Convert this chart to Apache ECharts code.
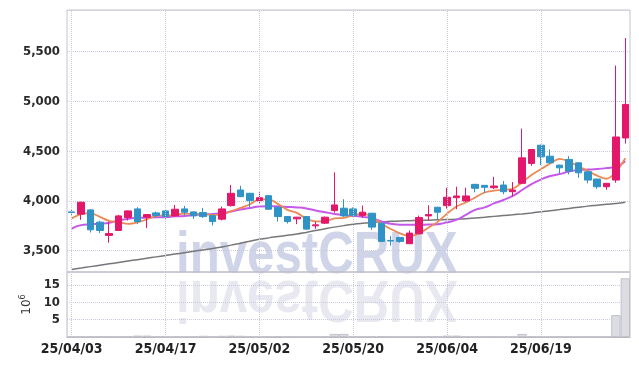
<!DOCTYPE html>
<html><head><meta charset="utf-8">
<script src="https://cdn.jsdelivr.net/npm/echarts@6/dist/echarts.min.js"></script>
<style>html,body{margin:0;padding:0;background:#fff}#c{width:639px;height:366px}</style>
</head><body><div id="c"></div>
<script>
const dates = ['25/04/03','25/04/04','25/04/07','25/04/08','25/04/09','25/04/10','25/04/11','25/04/14','25/04/15','25/04/16',
'25/04/17','25/04/18','25/04/21','25/04/22','25/04/23','25/04/24','25/04/25','25/04/28','25/04/29','25/04/30',
'25/05/02','25/05/07','25/05/08','25/05/09','25/05/12','25/05/13','25/05/14','25/05/15','25/05/16','25/05/19',
'25/05/20','25/05/21','25/05/22','25/05/23','25/05/26','25/05/27','25/05/28','25/05/29','25/05/30','25/06/02',
'25/06/04','25/06/05','25/06/09','25/06/10','25/06/11','25/06/12','25/06/13','25/06/16','25/06/17','25/06/18',
'25/06/19','25/06/20','25/06/23','25/06/24','25/06/25','25/06/26','25/06/27','25/06/30','25/07/01','25/07/02'];
const opens = [3890,3867,3910,3787,3653,3703,3833,3920,3837,3880,3900,3850,3920,3890,3883,3853,3817,3953,4110,4077,
4003,4053,3937,3843,3820,3843,3750,3777,3903,3927,3920,3853,3877,3777,3603,3633,3570,3670,3850,3937,
3953,4033,4000,4167,4157,4133,4160,4093,4177,4377,4560,4450,4360,4417,4383,4293,4220,4143,4210,4633];
const closes = [3885,3987,3710,3703,3673,3850,3900,3793,3863,3853,3843,3917,3887,3850,3843,3793,3920,4077,4043,4003,
4033,3917,3843,3793,3837,3717,3760,3837,3960,3850,3853,3887,3737,3593,3597,3593,3677,3833,3863,3887,
4037,4050,4050,4127,4137,4150,4093,4110,4433,4517,4443,4383,4333,4300,4283,4210,4143,4177,4643,4970];
const lows = [3850,3810,3683,3677,3580,3700,3803,3767,3727,3835,3820,3840,3860,3820,3830,3753,3803,3943,4040,3937,
3977,3910,3793,3773,3767,3710,3720,3770,3883,3840,3840,3830,3710,3590,3550,3580,3568,3668,3803,3817,
3923,3917,3993,4087,4080,4120,4067,4043,4170,4353,4360,4380,4277,4267,4233,4177,4120,4113,4183,4577];
const highs = [3910,3993,3917,3800,3793,3860,3905,3937,3868,3893,3905,3960,3950,3895,3930,3860,3943,4160,4153,4080,
4087,4060,3940,3845,3840,3845,3793,3843,4287,4017,3935,3953,3880,3780,3647,3637,3703,3853,3957,3940,
4133,4143,4133,4170,4160,4243,4200,4190,4727,4520,4565,4517,4365,4450,4387,4297,4223,4180,5360,5637];
const ma5 = [3825,3867,3877,3840,3800,3787,3770,3785,3815,3850,3855,3858,3872,3870,3868,3860,3862,3897,3930,3967,
4015,4015,3968,3910,3880,3822,3795,3795,3825,3830,3855,3872,3840,3770,3718,3675,3648,3670,3730,3790,
3872,3945,3985,4035,4085,4103,4111,4123,4185,4261,4319,4377,4422,4395,4348,4302,4254,4223,4291,4429];
const ma20 = [3722,3757,3765,3770,3780,3805,3820,3830,3833,3835,3837,3845,3850,3858,3865,3870,3877,3895,3915,3930,
3945,3947,3945,3940,3935,3925,3905,3887,3870,3858,3850,3840,3827,3795,3770,3762,3760,3760,3763,3767,
3785,3810,3860,3910,3935,3975,4010,4050,4110,4170,4215,4250,4270,4295,4310,4315,4320,4330,4345,4400];
const maLong = [3312,3326,3340,3354,3368,3382,3396,3410,3424,3438,3452,3466,3480,3494,3508,3522,3538,3556,3576,3596,
3614,3629,3642,3655,3668,3684,3702,3720,3737,3752,3765,3775,3783,3790,3795,3799,3802,3805,3807,3810,
3813,3817,3822,3828,3836,3845,3853,3861,3870,3880,3891,3902,3913,3925,3937,3948,3957,3966,3975,3987];
const volumes = [0.12,0.15,0.18,0.14,0.16,0.12,0.2,0.4,0.4,0.15,0.12,0.1,0.12,0.15,0.35,0.12,0.35,0.4,0.35,0.15,
0.12,0.15,0.3,0.12,0.1,0.12,0.1,0.15,0.9,0.9,0.15,0.12,0.15,0.2,0.12,0.1,0.12,0.15,0.12,0.1,
0.4,0.4,0.15,0.12,0.1,0.15,0.12,0.1,0.9,0.2,0.15,0.12,0.1,0.12,0.1,0.12,0.1,0.12,6.3,16.9];
const labelDates = ['25/04/03','25/04/17','25/05/02','25/05/20','25/06/04','25/06/19'];
const watermark = 'investCRUX';

const RED = '#e3186b', BLUE = '#2f93c6', GRID = '#c9c9dd';
const FONT = '"DejaVu Sans Condensed", "DejaVu Sans", sans-serif';
const chart = echarts.init(document.getElementById('c'), null, {renderer: 'canvas'});
const vLines = {
  silent: true, symbol: 'none', animation: false,
  label: {show: false},
  lineStyle: {type: 'dotted', color: GRID, width: 1},
  data: labelDates.map(d => ({xAxis: d}))
};
const wmFont = 'bold 60px "Liberation Sans", Arial, sans-serif';
chart.setOption({
  animation: false,
  backgroundColor: '#fff',
  grid: [
    {left: 67, right: 9, top: 10, height: 262, show: true, borderColor: '#c4c4cc', borderWidth: 1},
    {left: 67, right: 9, top: 272, height: 65, show: true, borderColor: '#b8b8c0', borderWidth: 1}
  ],
  graphic: [
    {type: 'text', x: 176, y: 256.5, scaleX: 0.82, z: -10, silent: true,
     style: {text: watermark, font: wmFont, fill: '#cfd4e8', textVerticalAlign: 'middle'}},
    {type: 'group', x: 176, y: 277, scaleY: -1, scaleX: 0.82, z: -10, silent: true, children: [
      {type: 'text', x: 0, y: -20.5, z: -10,
       style: {text: watermark, font: wmFont, fill: '#e8e8f0', textVerticalAlign: 'middle'}}
    ]}
  ],
  xAxis: [
    {type: 'category', gridIndex: 0, data: dates, boundaryGap: true,
     axisLine: {show: false}, axisTick: {show: false}, axisLabel: {show: false}, splitLine: {show: false}},
    {type: 'category', gridIndex: 1, data: dates, boundaryGap: true,
     axisLine: {show: true, lineStyle: {color: '#b8b8c0'}}, axisTick: {show: false}, splitLine: {show: false},
     axisLabel: {interval: 9, fontFamily: FONT, fontSize: 14, fontWeight: 'bold', color: '#222', margin: 5}}
  ],
  yAxis: [
    {type: 'value', gridIndex: 0, min: 3286, max: 5919, splitNumber: 5,
     axisLine: {show: false}, axisTick: {show: false},
     axisLabel: {showMinLabel: false, showMaxLabel: false, fontFamily: FONT, fontSize: 13, fontWeight: 'bold', color: '#2a2a2a', margin: 7},
     splitLine: {show: true, lineStyle: {type: 'dotted', color: GRID}}},
    {type: 'value', gridIndex: 1, min: 0, max: 18.7, interval: 5,
     axisLine: {show: false}, axisTick: {show: false},
     axisLabel: {showMinLabel: false, showMaxLabel: false, fontFamily: FONT, fontSize: 13, fontWeight: 'bold', color: '#2a2a2a', margin: 7},
     splitLine: {show: true, lineStyle: {type: 'dotted', color: GRID}},
     name: '{a|10}{b|6}', nameLocation: 'middle', nameRotate: 90, nameGap: 28,
     nameTextStyle: {rich: {a: {fontSize: 12, color: '#333', fontFamily: 'DejaVu Sans'}, b: {fontSize: 8, color: '#333', fontFamily: 'DejaVu Sans', padding: [0, 0, 8, 0]}}}}
  ],
  series: [
    {type: 'line', xAxisIndex: 0, yAxisIndex: 0, data: [], z: 1, markLine: vLines},
    {type: 'line', xAxisIndex: 1, yAxisIndex: 1, data: [], z: 1, markLine: vLines},
    {type: 'bar', xAxisIndex: 1, yAxisIndex: 1, data: volumes, barCategoryGap: '0%', z: 2,
     itemStyle: {color: '#dcdce3', borderColor: '#c2c2cc', borderWidth: 1}},
    {type: 'line', xAxisIndex: 0, yAxisIndex: 0, data: maLong, symbol: 'none', smooth: true, z: 3,
     lineStyle: {color: '#77777b', width: 1.5}},
    {type: 'line', xAxisIndex: 0, yAxisIndex: 0, data: ma20, symbol: 'none', smooth: true, z: 3,
     lineStyle: {color: '#c658ea', width: 2}},
    {type: 'line', xAxisIndex: 0, yAxisIndex: 0, data: ma5, symbol: 'none', smooth: 0.3, z: 3,
     lineStyle: {color: '#ec8a55', width: 1.8}},
    {type: 'candlestick', xAxisIndex: 0, yAxisIndex: 0, barWidth: 7, z: 4,
     data: dates.map((d, i) => [opens[i], closes[i], lows[i], highs[i]]),
     itemStyle: {color: RED, color0: BLUE, borderColor: RED, borderColor0: BLUE, borderWidth: 1}}
  ]
});
</script></body></html>
